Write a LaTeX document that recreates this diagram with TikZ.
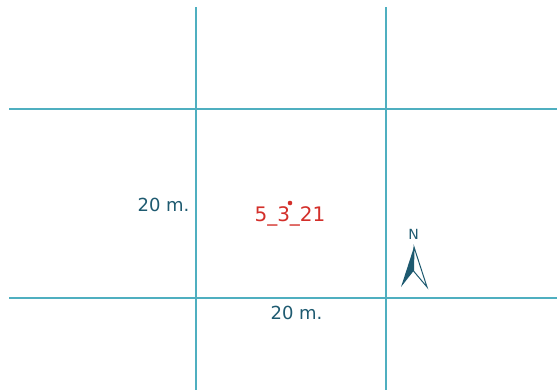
\documentclass[tikz,border=0pt]{standalone}
\usepackage{fontspec}
\setmainfont{DejaVu Sans}
\definecolor{gridc}{HTML}{4FAFC0}
\definecolor{labc}{HTML}{1E5A70}
\definecolor{redc}{HTML}{D32F2A}
\begin{document}
\begin{tikzpicture}[x=1bp,y=-1bp,
  gridline/.style={draw=gridc,line width=1.3bp},
  dimlabel/.style={text=labc,font=\fontsize{18bp}{20bp}\selectfont,inner sep=0pt},
  ptlabel/.style={text=redc,font=\fontsize{20bp}{22bp}\selectfont,inner sep=0pt}]
\useasboundingbox (0,0) rectangle (557,390);
\coordinate (v1t) at (196,7); \coordinate (v1b) at (196,390);
\coordinate (v2t) at (386,7); \coordinate (v2b) at (386,390);
\coordinate (h1l) at (9,109); \coordinate (h1r) at (557,109);
\coordinate (h2l) at (9,298); \coordinate (h2r) at (557,298);
\draw[gridline] (v1t) -- (v1b);
\draw[gridline] (v2t) -- (v2b);
\draw[gridline] (h1l) -- (h1r);
\draw[gridline] (h2l) -- (h2r);
\node[dimlabel] (dl) at (163.5,205) {20 m.};
\node[dimlabel] (db) at (296.5,313) {20 m.};
\fill[redc] (290,203) circle (2.3bp);
\node[ptlabel] (pt) at (290,216) {5\_3\_21};
\node[text=labc,font=\fontsize{14bp}{15bp}\selectfont,inner sep=0pt] (nn) at (413.5,234) {N};
\coordinate (tip) at (414,247);
\coordinate (bl) at (401,287);
\coordinate (br) at (427,287);
\coordinate (notch) at (413.5,271);
\fill[labc] (tip) -- (bl) -- (notch) -- cycle;
\draw[labc,line width=1bp,line join=miter] (tip) -- (br) -- (notch) -- cycle;
\end{tikzpicture}
\end{document}
